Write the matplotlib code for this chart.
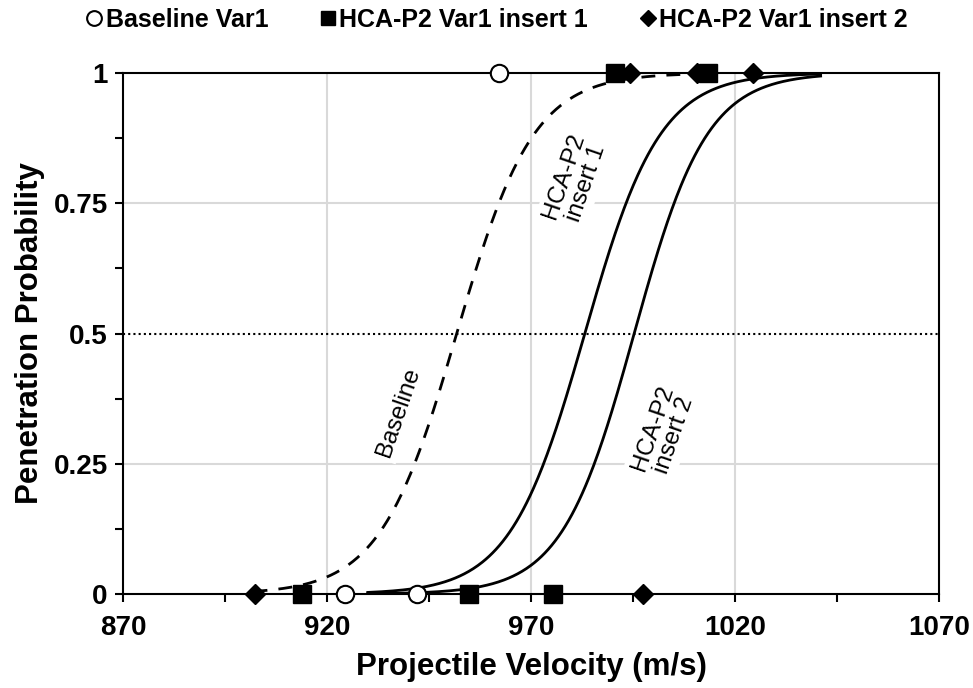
import numpy as np
import matplotlib
matplotlib.use("Agg")
import matplotlib.pyplot as plt
from matplotlib.ticker import FixedLocator

plt.rcParams['font.family'] = ['Liberation Sans', 'DejaVu Sans']

# ---- data ----
baseline_x = [924.4, 942.1, 962.2]
baseline_y = [0, 0, 1]
insert1_x = [913.9, 954.8, 975.4, 990.6, 1013.5]
insert1_y = [0, 0, 0, 1, 1]
insert2_x = [902.4, 997.5, 994.3, 1010.7, 1024.4]
insert2_y = [0, 0, 1, 1, 1]

x_ticks = [870, 920, 970, 1020, 1070]
x_minor = [895, 945, 995, 1045]
y_ticks = [0, 0.25, 0.5, 0.75, 1]
y_ticklabels = ['0', '0.25', '0.5', '0.75', '1']

# logistic fits: (v50, scale, v_start, v_end)
curve_names = ["Baseline", "HCA-P2\ninsert 1", "HCA-P2\ninsert 2"]
curve_v50 = [951.8, 983.2, 995.3]
curve_scale = [9.4, 9.2, 8.9]
curve_start = [902.0, 930.0, 930.0]
curve_end = [1010.0, 1041.0, 1041.0]
curve_styles = ["--", "-", "-"]
label_x = [937.4, 980.8, 1002.4]
label_y = [0.349, 0.795, 0.311]

fig = plt.figure(figsize=(9.73, 6.88), dpi=100)
ax = fig.add_axes([0.1264, 0.1366, 0.965 - 0.1264, 0.8939 - 0.1366])

# gridlines
for gx in [920, 970, 1020]:
    ax.axvline(gx, color='#d9d9d9', lw=1.5, zorder=0)
for gy in [0.25, 0.75]:
    ax.axhline(gy, color='#d9d9d9', lw=1.5, zorder=0)
ax.axhline(0.5, color='black', lw=1.5, ls=(0, (1, 1.5)), zorder=1)

# curves
for mu, s, a, b, ls in zip(curve_v50, curve_scale, curve_start, curve_end, curve_styles):
    v = np.linspace(a, b, 400)
    p = 1.0 / (1.0 + np.exp(-(v - mu) / s))
    ax.plot(v, p, color='black', lw=2, ls=(0, (5, 4)) if ls == "--" else '-', zorder=3)

# labels
for name, lx, ly in zip(curve_names, label_x, label_y):
    ax.text(lx, ly, name, rotation=71, ha='center', va='center', fontsize=17.5,
            linespacing=1.05, zorder=2,
            bbox=dict(boxstyle='square,pad=0.15', fc='white', ec='none'))

# markers
ms = 12.5
h1, = ax.plot(baseline_x, baseline_y, 'o', ms=ms, mfc='white', mec='black', mew=1.5,
              ls='none', zorder=5, clip_on=False, label='Baseline Var1')
h2, = ax.plot(insert1_x, insert1_y, 's', ms=ms, mfc='black', mec='black',
              ls='none', zorder=5, clip_on=False, label='HCA-P2 Var1 insert 1')
h3, = ax.plot(insert2_x, insert2_y, 'D', ms=ms * 0.8, mfc='black', mec='black',
              ls='none', zorder=5, clip_on=False, label='HCA-P2 Var1 insert 2')

ax.set_xlim(870, 1070)
ax.set_ylim(0, 1)
ax.xaxis.set_major_locator(FixedLocator(x_ticks))
ax.xaxis.set_minor_locator(FixedLocator(x_minor))
ax.yaxis.set_major_locator(FixedLocator(y_ticks))
ax.yaxis.set_minor_locator(FixedLocator([0.125, 0.375, 0.625, 0.875]))
ax.set_xticklabels([str(t) for t in x_ticks])
ax.set_yticklabels(y_ticklabels)
ax.tick_params(axis='both', which='both', direction='out', length=6, width=1.5,
               color='black')
ax.tick_params(axis='x', which='major', labelsize=20, pad=9)
ax.tick_params(axis='y', which='major', labelsize=20, pad=5)
for lab in ax.get_xticklabels() + ax.get_yticklabels():
    lab.set_fontweight('bold')
for sp in ax.spines.values():
    sp.set_linewidth(1.5)
    sp.set_color('black')
    sp.set_zorder(4)

ax.set_xlabel('Projectile Velocity (m/s)', fontsize=22.5, fontweight='bold', labelpad=8)
ax.set_ylabel('Penetration Probability', fontsize=22.5, fontweight='bold', labelpad=6)

leg = fig.legend(handles=[h1, h2, h3], loc='center', bbox_to_anchor=(0.51, 0.971),
                 ncol=3, frameon=False, handletextpad=0.05,
                 handlelength=0.8, columnspacing=2.0, markerscale=0.85,
                 prop={'weight': 'bold', 'size': 18})

fig.savefig('out.png', dpi=100)
